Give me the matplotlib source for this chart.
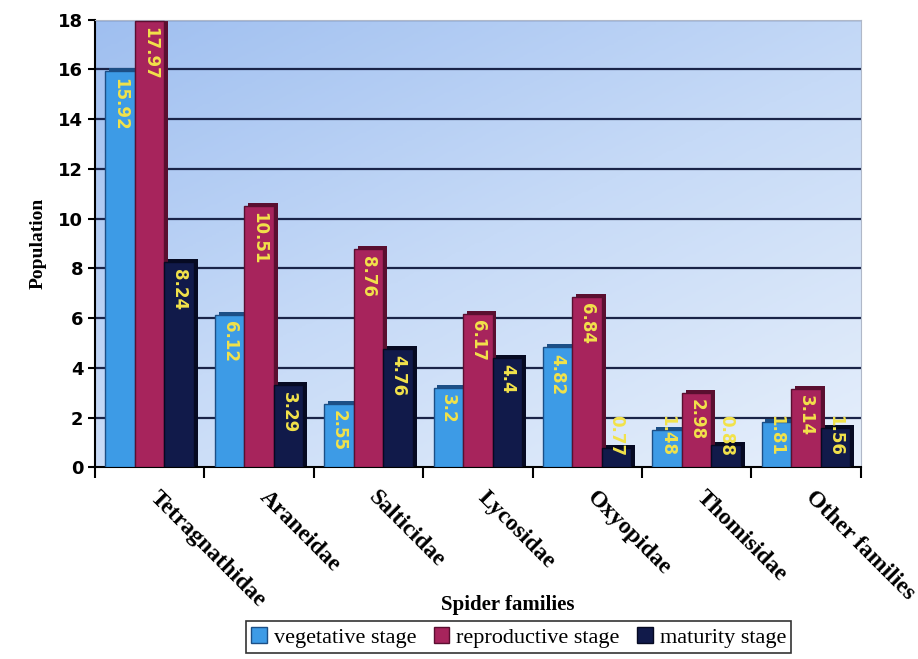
import matplotlib
matplotlib.use("Agg")
import matplotlib.pyplot as plt
import numpy as np
from matplotlib.colors import LinearSegmentedColormap

families = ["Tetragnathidae", "Araneidae", "Salticidae", "Lycosidae",
            "Oxyopidae", "Thomisidae", "Other families"]
vegetative = [15.92, 6.12, 2.55, 3.2, 4.82, 1.48, 1.81]
reproductive = [17.97, 10.51, 8.76, 6.17, 6.84, 2.98, 3.14]
maturity = [8.24, 3.29, 4.76, 4.4, 0.77, 0.88, 1.56]
value_labels = {
    "vegetative": ["15.92", "6.12", "2.55", "3.2", "4.82", "1.48", "1.81"],
    "reproductive": ["17.97", "10.51", "8.76", "6.17", "6.84", "2.98", "3.14"],
    "maturity": ["8.24", "3.29", "4.76", "4.4", "0.77", "0.88", "1.56"],
}
series_names = ["vegetative stage", "reproductive stage", "maturity stage"]
yticks = [0, 2, 4, 6, 8, 10, 12, 14, 16, 18]

plt.rcParams['font.family'] = ['Liberation Serif', 'DejaVu Serif']

fig = plt.figure(figsize=(9.18, 6.59), dpi=100)
ax = fig.add_axes([0.1035, 0.291, 0.834, 0.679])

# gradient background
grad_cmap = LinearSegmentedColormap.from_list("bg", ["#9fbff0", "#c6daf7", "#e6effb"])
gx, gy = np.meshgrid(np.linspace(0, 1, 200), np.linspace(0, 1, 200))
g = 0.45 * gx + 0.55 * gy
ax.imshow(g, extent=[-0.5, 6.5, 0, 18], aspect='auto', cmap=grad_cmap,
          origin='upper', zorder=0, vmin=0, vmax=1)

for t in yticks[1:]:
    ax.axhline(t, color="#1a2448", lw=1.6, zorder=1)

x = np.arange(len(families))
w = 0.27
colors = ["#3d9be6", "#a7245c", "#111a4a"]
sides = ["#1c4f86", "#5a0f30", "#060a22"]
data = [vegetative, reproductive, maturity]
keys = ["vegetative", "reproductive", "maturity"]
offs = [-w, 0, w]
for vals, c, sc, off, key, name in zip(data, colors, sides, offs, keys, series_names):
    ax.bar(x + off + 0.035, np.array(vals) + 0.12, width=w, color=sc,
           zorder=2, bottom=0)
    ax.bar(x + off, vals, width=w, color=c, edgecolor=sc, linewidth=1.0,
           zorder=3, label=name)
    for xi, v, lab in zip(x, vals, value_labels[key]):
        top = max(v - 0.25, 0.45 * len(lab) + 0.3)
        ax.text(xi + off, top, lab, rotation=-90, ha='center', va='top',
                color="#f2e24a", fontsize=12, fontweight='bold',
                family=['DejaVu Sans'], zorder=4)

ax.set_xlim(-0.5, 6.5)
ax.set_ylim(0, 18)
ax.set_yticks(yticks)
ax.set_yticklabels([str(t) for t in yticks], fontsize=13, fontweight='bold',
                   family=['DejaVu Sans'])
ax.set_xticks(np.arange(-0.5, 7, 1.0))
ax.set_xticklabels([])
ax.tick_params(axis='x', length=8, width=1.5, direction='out')
ax.tick_params(axis='y', length=5, width=1.5)
for xi, name in zip(x, families):
    ax.text(xi + 0.03, -1.1, name, rotation=-45, rotation_mode='anchor',
            ha='left', va='center', fontsize=17, fontweight='bold')

for s in ["top", "right"]:
    ax.spines[s].set_color("#b0b8c8")
ax.spines["left"].set_linewidth(1.5)
ax.spines["bottom"].set_linewidth(1.5)

ax.set_ylabel("Population", fontsize=14, fontweight='bold', labelpad=8)
fig.text(0.553, 0.082, "Spider families", ha='center', va='center',
         fontsize=15, fontweight='bold')

leg = fig.legend(loc='center', bbox_to_anchor=(0.565, 0.033), ncol=3,
                 fontsize=16, frameon=True, fancybox=False, edgecolor='black',
                 handlelength=0.7, handleheight=0.7, handletextpad=0.3,
                 columnspacing=0.8, borderpad=0.25)
leg.get_frame().set_linewidth(1.2)

fig.savefig("out.png", dpi=100)
